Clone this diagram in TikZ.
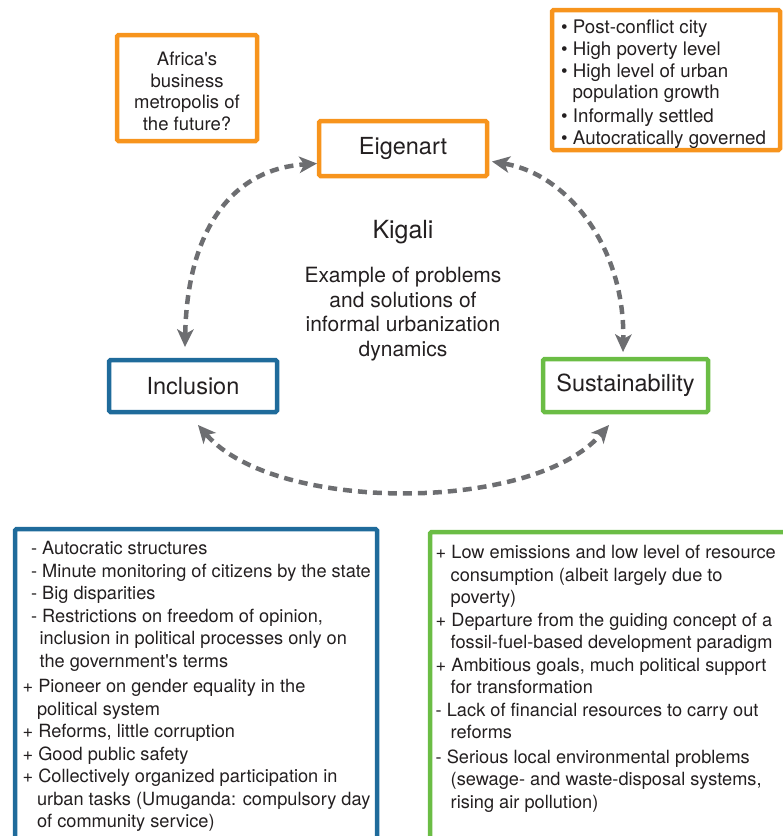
\documentclass[tikz,border=0pt]{standalone}
\usepackage{fontspec}
\setmainfont{TeX Gyre Heros}[Ligatures=TeXOff]
\usetikzlibrary{arrows.meta}
\definecolor{orng}{HTML}{F7941D}
\definecolor{blu}{HTML}{1F6B9B}
\definecolor{grn}{HTML}{6BBD45}
\definecolor{gry}{HTML}{6D6E71}
\definecolor{txt}{HTML}{231F20}
\begin{document}
\begin{tikzpicture}[x=1pt,y=-1pt,
  box/.style={draw, line width=4.5pt, rounded corners=1.5pt, inner sep=0pt, outer sep=0pt},
  lbl/.style={font=\fontsize{23.5}{28}\selectfont, text=txt},
  body/.style={font=\fontsize{18.2}{22.5}\selectfont, text=txt, align=left, inner sep=0pt, anchor=north west},
  ctext/.style={text=txt, align=center, inner sep=0pt},
  arr/.style={draw=gry, line width=4.5pt, dash pattern=on 9pt off 6pt, {Stealth[length=18pt,width=17pt,inset=5pt,line width=0pt]}-{Stealth[length=18pt,width=17pt,inset=5pt,line width=0pt]}}
]
\useasboundingbox (0,0) rectangle (783,836);
\clip (0,0) rectangle (783,836);

% main nodes
\node[box, draw=orng, minimum width=168pt, minimum height=55pt, lbl] (eig) at (403,148.5) {Eigenart};
\node[box, draw=blu, minimum width=168pt, minimum height=52pt, lbl] (incl) at (193,386) {Inclusion};
\node[box, draw=grn, minimum width=165pt, minimum height=53pt, lbl] (sus) at (625.5,385.5) {Sustainability};

% Africa box
\node[box, draw=orng, minimum width=140pt, minimum height=106pt] (afr) at (187,88) {};
\node[ctext, font=\fontsize{18.5}{21.7}\selectfont] (afrt) at (187,91.5) {Africa's\\business\\metropolis of\\the future?};

% conditions box
\node[box, draw=orng, minimum width=228pt, minimum height=140pt] (cond) at (666,80) {};
\node[body, font=\fontsize{18.7}{21.7}\selectfont] (condt) at (561,20) {%
• Post-conflict city\\
• High poverty level\\
• High level of urban\\
\hspace*{11.3pt}population growth\\[2pt]
• Informally settled\\
• Autocratically governed};

% centre text
\node[ctext, font=\fontsize{25}{29}\selectfont] (kig) at (403,232) {Kigali};
\node[ctext, font=\fontsize{21}{24.7}\selectfont] (ex) at (403,314) {Example of problems\\and solutions of\\informal urbanization\\dynamics};

% connectors
\draw[arr] ([shift={(-8,-13)}]incl.north) .. controls (187,240) and (225,170) .. ([shift={(-2,15)}]eig.west);
\draw[arr] ([shift={(5,13)}]eig.east) .. controls (570,175) and (625,250) .. ([shift={(-2.5,-7)}]sus.north);
\draw[arr] ([shift={(5,13)}]incl.south) .. controls (275,513) and (532,513) .. ([shift={(-16.5,13)}]sus.south);

% inclusion detail box
\node[box, draw=blu, minimum width=362pt, minimum height=400pt, anchor=north west] (inclbox) at (15,529) {};
\node[body] (inclt) at (22.4,541.5) {%
\hspace*{8.5pt}- Autocratic structures\\
\hspace*{8.5pt}- Minute monitoring of citizens by the state\\
\hspace*{8.5pt}- Big disparities\\
\hspace*{8.5pt}- Restrictions on freedom of opinion,\\
\hspace*{17pt}inclusion in political processes only on\\
\hspace*{17pt}the government's terms\\[3pt]
+ Pioneer on gender equality in the\\
\hspace*{14.5pt}political system\\
+ Reforms, little corruption\\
+ Good public safety\\
+ Collectively organized participation in\\
\hspace*{14.5pt}urban tasks (Umuganda: compulsory day\\
\hspace*{14.5pt}of community service)};

% sustainability detail box
\node[box, draw=grn, minimum width=370pt, minimum height=400pt, anchor=north west] (susbox) at (430,532) {};
\node[body] (sust) at (435.5,545) {%
+ Low emissions and low level of resource\\
\hspace*{15pt}consumption (albeit largely due to\\
\hspace*{15pt}poverty)\\
+ Departure from the guiding concept of a\\
\hspace*{15pt}fossil-fuel-based development paradigm\\
+ Ambitious goals, much political support\\
\hspace*{15pt}for transformation\\
- Lack of financial resources to carry out\\
\hspace*{15pt}reforms\\[2pt]
- Serious local environmental problems\\
\hspace*{15pt}(sewage- and waste-disposal systems,\\
\hspace*{15pt}rising air pollution)};
\end{tikzpicture}
\end{document}
